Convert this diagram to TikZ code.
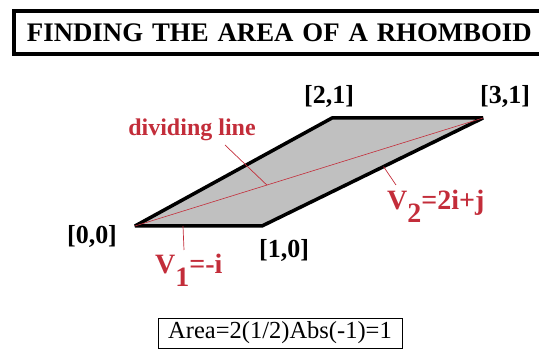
\documentclass[tikz,border=0pt]{standalone}
\usepackage{fontspec}
\setmainfont{Liberation Serif}
\usepackage{xcolor}
\usetikzlibrary{calc}
\definecolor{divred}{RGB}{195,45,58}
\definecolor{rhombgray}{RGB}{192,192,192}

\begin{document}
\begin{tikzpicture}[
  x=1pt,y=1pt,
  corner/.style={font=\fontsize{26}{26}\selectfont\bfseries,inner sep=0pt},
  redtag/.style={text=divred,font=\fontsize{28}{28}\selectfont\bfseries,inner sep=0pt},
  leader/.style={divred,line width=0.7pt},
  edge/.style={line width=3.5pt,line join=bevel}
]
\useasboundingbox (0,0) rectangle (539,351);

% title
\node[draw,line width=4pt,anchor=north west,minimum height=42.5pt,text width=520pt,
  align=left,inner xsep=13pt,font=\fontsize{26.8}{27}\selectfont\bfseries] (title)
  at (12,341.5) {FINDING THE AREA OF A RHOMBOID};

% the rhomboid
\coordinate (p00) at (135,125);
\coordinate (p10) at (262,125);
\coordinate (p21) at (332,233);
\coordinate (p31) at (483,233);
\fill[rhombgray] (p00) -- (p10) -- (p31) -- (p21) -- cycle;
\draw[edge] (p00) -- (p10) -- (p31) -- (p21) -- cycle;
\draw[divred,line width=0.6pt] (p00) -- (p31);

\node[corner] (l00) at (92,115) {[0,0]};
\node[corner] (l10) at (284,101) {[1,0]};
\node[corner] (l21) at (329,255) {[2,1]};
\node[corner] (l31) at (505,255) {[3,1]};

% labels with leaders
\node[redtag,font=\fontsize{24}{24}\selectfont\bfseries,anchor=base] (divtext) at (192,215) {dividing line};
\coordinate (dlfrom) at (225,206);
\coordinate (dlto) at ($(p00)!0.379!(p31)$);
\draw[leader] (dlfrom) -- (dlto);

\node[redtag,anchor=base west] (v1) at (155,77) {V\raisebox{-13pt}{1}=-i};
\coordinate (v1from) at (183,125);
\coordinate (v1to) at (184,101);
\draw[leader] (v1from) -- (v1to);

\node[redtag,anchor=base west] (v2) at (387,141) {V\raisebox{-13pt}{2}=2i+j};
\coordinate (v2from) at ($(p10)!0.55!(p31)$);
\coordinate (v2to) at (396,166);
\draw[leader] (v2from) -- (v2to);

% result
\node[draw,line width=0.8pt,font=\fontsize{24.5}{25}\selectfont,minimum width=244pt,
  minimum height=30pt] (area) at (280,18) {Area=2(1/2)Abs(-1)=1};
\end{tikzpicture}
\end{document}
